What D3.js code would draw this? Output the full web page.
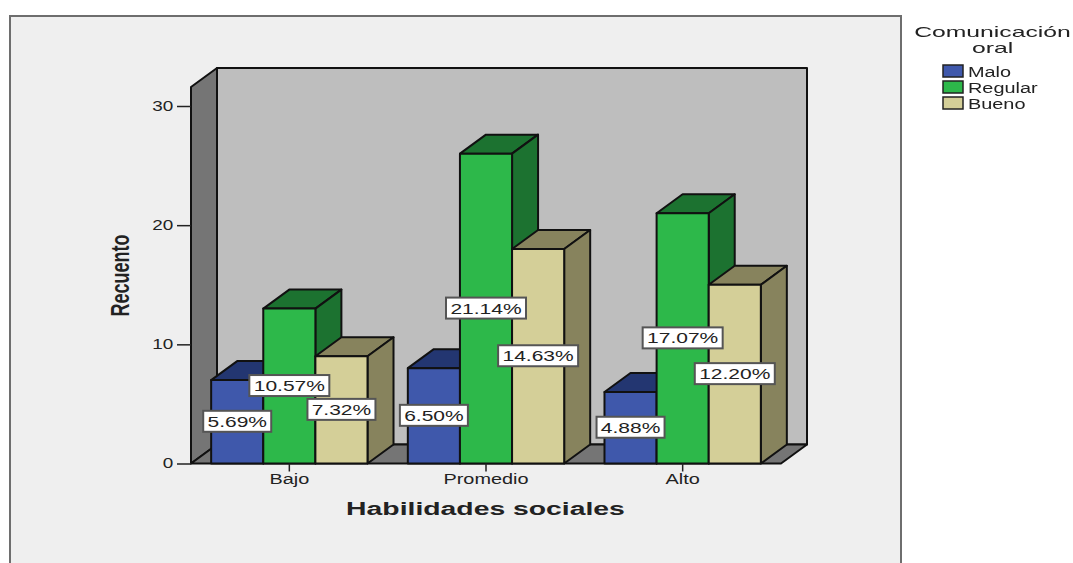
<!DOCTYPE html>
<html>
<head>
<meta charset="utf-8">
<script src="https://cdn.jsdelivr.net/npm/d3@7"></script>
<style>
  html, body { margin: 0; padding: 0; background: #fff; }
  svg { display: block; filter: blur(0.35px); }
  text { font-family: "Liberation Sans", Arial, sans-serif; fill: #222; }
</style>
</head>
<body>
<svg id="chart" width="1073" height="563"></svg>
<script>
// chart data
var categories = ["Bajo", "Promedio", "Alto"];
var seriesNames = ["Malo", "Regular", "Bueno"];
var malo = [7, 8, 6];
var regular = [13, 26, 21];
var bueno = [9, 18, 15];
var maloLabels = ["5.69%", "6.50%", "4.88%"];
var regularLabels = ["10.57%", "21.14%", "17.07%"];
var buenoLabels = ["7.32%", "14.63%", "12.20%"];
var yTicks = [0, 10, 20, 30];

var values = [malo, regular, bueno];
var labels = [maloLabels, regularLabels, buenoLabels];

// face colours for each series: front, top, side
var faces = [
  {front: "#3f58ab", top: "#233671", side: "#233671"},
  {front: "#2db84a", top: "#1c7230", side: "#1c7230"},
  {front: "#d4cf98", top: "#87835d", side: "#87835d"}
];

var svg = d3.select("#chart");

// depth of the fake 3d box
var depthX = 26, depthY = -19;

// set the ranges
var x = d3.scaleBand().domain(categories).range([191, 781]).paddingInner(0.205).paddingOuter(0.1025);
var inner = d3.scaleBand().domain(d3.range(seriesNames.length)).range([0, x.bandwidth()]);
var y = d3.scaleLinear().domain([0, 30]).range([463.5, 106]);

var yTop = 87;

function poly(points, fill) {
  return svg.append("polygon")
    .attr("points", points.map(function(p) { return p.join(","); }).join(" "))
    .attr("fill", fill)
    .attr("stroke", "#111")
    .attr("stroke-width", 2)
    .attr("stroke-linejoin", "round");
}

// wide text, the picture is stretched sideways
function wideText(px, py, str, size, sx, anchor, weight) {
  return svg.append("text")
    .attr("transform", "translate(" + px + "," + py + ") scale(" + sx + ",1)")
    .attr("text-anchor", anchor || "middle")
    .attr("font-size", size)
    .attr("font-weight", weight || "normal")
    .text(str);
}

// outer frame
svg.append("rect")
  .attr("x", 10).attr("y", 16)
  .attr("width", 891).attr("height", 560)
  .attr("fill", "#efefef")
  .attr("stroke", "#6e6e6e")
  .attr("stroke-width", 2);

// walls and floor
var x0 = x.range()[0], x1 = x.range()[1], y0 = y(0);
poly([[x0 + depthX, yTop + depthY], [x1 + depthX, yTop + depthY], [x1 + depthX, y0 + depthY], [x0 + depthX, y0 + depthY]], "#bebebe");
poly([[x0, yTop], [x0 + depthX, yTop + depthY], [x0 + depthX, y0 + depthY], [x0, y0]], "#757575");
poly([[x0, y0], [x0 + depthX, y0 + depthY], [x1 + depthX, y0 + depthY], [x1, y0]], "#757575");

// bars, back to front so the sides overlap properly
categories.forEach(function(cat, c) {
  seriesNames.forEach(function(name, s) {
    var left = x(cat) + inner(s);
    var right = left + inner.bandwidth();
    var top = y(values[s][c]);
    poly([[left, top], [left + depthX, top + depthY], [right + depthX, top + depthY], [right, top]], faces[s].top);
    poly([[right, top], [right + depthX, top + depthY], [right + depthX, y0 + depthY], [right, y0]], faces[s].side);
    poly([[left, top], [right, top], [right, y0], [left, y0]], faces[s].front);
  });
});

// y axis
var yAxis = svg.append("g")
  .attr("transform", "translate(" + x0 + ",0)")
  .call(d3.axisLeft(y).tickValues(yTicks).tickSize(14).tickPadding(3.5));
yAxis.select(".domain").remove();
yAxis.selectAll(".tick line").attr("stroke", "#222").attr("stroke-width", 1.5);
yAxis.selectAll(".tick text")
  .attr("font-size", 14)
  .attr("font-family", null)
  .attr("transform", "translate(-17,0) scale(1.35,1) translate(17,0)")
  .style("fill", "#222");

// x axis
var xAxis = svg.append("g")
  .attr("transform", "translate(0," + y0 + ")")
  .call(d3.axisBottom(x).tickSize(8).tickPadding(3));
xAxis.select(".domain").remove();
xAxis.selectAll(".tick line").attr("stroke", "#222").attr("stroke-width", 1.5);
xAxis.selectAll(".tick text")
  .attr("font-size", 14)
  .attr("font-family", null)
  .attr("transform", "scale(1.42,1)")
  .style("fill", "#222");

// percent labels on top of everything
categories.forEach(function(cat, c) {
  seriesNames.forEach(function(name, s) {
    var cx = x(cat) + inner(s) + inner.bandwidth() / 2;
    var cy = y(values[s][c] / 2);
    var w = labels[s][c].length > 5 ? 80 : 68;
    svg.append("rect")
      .attr("x", cx - w / 2).attr("y", cy - 11)
      .attr("width", w).attr("height", 21)
      .attr("fill", "#fff")
      .attr("stroke", "#555")
      .attr("stroke-width", 2);
    wideText(cx, cy + 5, labels[s][c], 14, 1.5);
  });
});

// axis titles
wideText(485.5, 515, "Habilidades sociales", 17.5, 1.62, "middle", "bold").attr("fill", "#111");
svg.append("text")
  .attr("transform", "translate(129,275.5) rotate(-90) scale(1,1.4)")
  .attr("text-anchor", "middle")
  .attr("font-size", 18)
  .attr("font-weight", "bold")
  .text("Recuento");

// legend
wideText(992.5, 37, "Comunicación", 15, 1.65);
wideText(992.5, 53, "oral", 15, 1.65);

var legend = svg.selectAll(".legend")
    .data(seriesNames)
  .enter().append("g")
    .attr("class", "legend")
    .attr("transform", function(d, i) { return "translate(943," + (65 + i * 16) + ")"; });

legend.append("rect")
    .attr("width", 20)
    .attr("height", 12)
    .attr("fill", function(d, i) { return faces[i].front; })
    .attr("stroke", "#222")
    .attr("stroke-width", 1.5);

legend.append("text")
    .attr("transform", "translate(25,12) scale(1.42,1)")
    .attr("font-size", 14)
    .text(function(d) { return d; });
</script>
</body>
</html>
